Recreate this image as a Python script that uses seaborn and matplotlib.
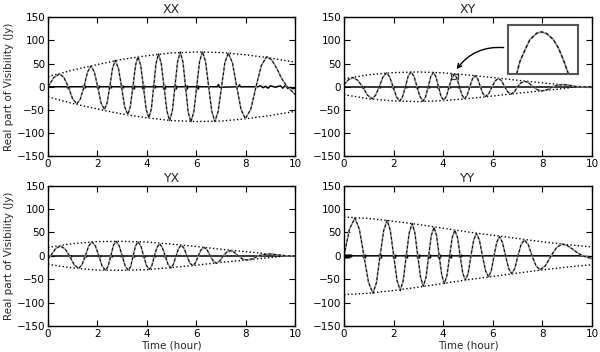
import numpy as np
import pandas as pd
import matplotlib
matplotlib.use("Agg")
import matplotlib.pyplot as plt
import seaborn as sns
from matplotlib.patches import Rectangle

# ---------------- data ----------------
titles = ["XX", "XY", "YX", "YY"]

xx_t = [0, 0.235, 0.47, 0.645, 0.82, 0.995, 1.17, 1.31, 1.455, 1.60, 1.74, 1.875, 2.01, 2.145, 2.28,
        2.39, 2.50, 2.61, 2.72, 2.85, 2.975, 3.10, 3.23, 3.33, 3.435, 3.54, 3.64, 3.75, 3.86, 3.97, 4.08,
        4.18, 4.275, 4.37, 4.47, 4.58, 4.695, 4.81, 4.92, 5.03, 5.135, 5.24, 5.35, 5.46, 5.565, 5.67, 5.78,
        5.90, 6.015, 6.13, 6.25, 6.375, 6.50, 6.625, 6.75, 6.885, 7.02, 7.155, 7.29, 7.46, 7.635, 7.81, 7.98,
        8.20, 8.415, 8.63, 8.85, 9.05, 9.25, 9.45, 9.65, 9.8, 10.0]
xx_v = [0, 20, 28, 20, 0, -26, -37, -26, 0, 32, 45, 32, 0, -35, -49,
        -35, 0, 40, 57, 40, 0, -43, -60, -43, 0, 46, 65, 46, 0, -48, -67,
        -48, 0, 50, 71, 50, 0, -52, -73, -52, 0, 53, 75, 53, 0, -54, -76,
        -54, 0, 54, 76, 54, 0, -53, -75, -53, 0, 52, 73, 52, 0, -49, -69,
        -49, 0, 46, 65, 58, 40, 18, 2, -6, -17]

xy_t = [0, 0.18, 0.36, 0.555, 0.75, 0.945, 1.14, 1.28, 1.425, 1.57, 1.71, 1.845, 1.98, 2.115, 2.25,
        2.36, 2.475, 2.59, 2.70, 2.82, 2.945, 3.07, 3.19, 3.29, 3.395, 3.50, 3.60, 3.705, 3.81, 3.915, 4.02,
        4.13, 4.24, 4.35, 4.45, 4.55, 4.655, 4.76, 4.86, 4.97, 5.075, 5.18, 5.29, 5.395, 5.50, 5.605, 5.71,
        5.84, 5.97, 6.10, 6.23, 6.355, 6.48, 6.605, 6.73, 6.87, 7.005, 7.14, 7.28, 7.45, 7.625, 7.80, 7.97,
        8.19, 8.41, 8.63, 8.85, 9.1, 9.3, 9.5, 10.0]
xy_v = [5, 15, 20, 14, 0, -18, -26, -18, 0, 21, 30, 21, 0, -22, -31,
        -22, 0, 23, 32, 23, 0, -22, -31, -22, 0, 22, 31, 22, 0, -21, -29,
        -21, 0, 19, 26.4, 19, 0, -18, -26, -18, 0, 17, 24, 17, 0, -15, -21,
        -15, 0, 13, 18, 13, 0, -11, -16, -11, 0, 8.5, 12, 8.5, 0, -6.5, -9,
        -6.5, 0, 3.5, 5, 3, 1, 0, 0]

yx_t = [0, 0.1, 0.3, 0.5, 0.685, 0.87, 1.055, 1.24, 1.375, 1.51, 1.645, 1.78, 1.92, 2.055, 2.19, 2.33,
        2.435, 2.54, 2.645, 2.75, 2.875, 3.0, 3.125, 3.25, 3.35, 3.445, 3.54, 3.64, 3.755, 3.87, 3.985, 4.10,
        4.20, 4.305, 4.41, 4.51, 4.625, 4.74, 4.855, 4.97, 5.075, 5.18, 5.285, 5.39, 5.505, 5.62, 5.735, 5.85,
        5.965, 6.08, 6.195, 6.31, 6.435, 6.56, 6.685, 6.81, 6.95, 7.09, 7.23, 7.37, 7.53, 7.695, 7.86, 8.02,
        8.265, 8.51, 8.755, 9.0, 9.3, 9.6, 10.0]
yx_v = [-7, 0, 15, 21, 15, 0, -19, -27, -19, 0, 21, 30, 21, 0, -22, -31,
        -22, 0, 22, 31, 22, 0, -22, -31, -22, 0, 21, 30, 21, 0, -21, -29,
        -21, 0, 18, 26, 18, 0, -18, -26, -18, 0, 16, 23, 16, 0, -15, -21,
        -15, 0, 13, 18, 13, 0, -11, -16, -11, 0, 8, 11, 8, 0, -6.5, -9,
        -6.5, 0, 3, 4, 2, 0, 0]

yy_t = [0, 0.22, 0.44, 0.62, 0.805, 0.99, 1.17, 1.31, 1.455, 1.60, 1.74, 1.87, 2.005, 2.14, 2.27,
        2.39, 2.51, 2.63, 2.75, 2.86, 2.975, 3.09, 3.20, 3.31, 3.415, 3.52, 3.63, 3.735, 3.84, 3.945, 4.05,
        4.155, 4.26, 4.365, 4.47, 4.58, 4.685, 4.79, 4.90, 5.01, 5.12, 5.23, 5.34, 5.46, 5.585, 5.71, 5.83,
        5.94, 6.05, 6.16, 6.27, 6.39, 6.515, 6.64, 6.76, 6.89, 7.015, 7.14, 7.27, 7.43, 7.585, 7.74, 7.90,
        8.125, 8.35, 8.575, 8.80, 9.0, 9.2, 9.4, 9.6, 9.8, 10.0]
yy_v = [0, 57, 81, 57, 0, -57, -80, -57, 0, 54, 76, 54, 0, -53, -74,
        -53, 0, 49, 69, 49, 0, -46, -65, -46, 0, 43, 61, 43, 0, -42, -59,
        -42, 0, 39, 55, 39, 0, -37, -52, -37, 0, 34, 48, 34, 0, -32, -45,
        -32, 0, 29, 41, 29, 0, -27, -38, -27, 0, 24, 34, 24, 0, -21, -30,
        -21, 0, 18, 25, 22, 15, 7, 1, -3, -6]

# envelopes (upper; lower is the mirror)
xx_env_t = [0, 1, 2, 3, 4, 5, 6, 7, 8, 9, 10]
xx_env_v = [22, 36, 48, 59, 67, 73, 75, 74, 69, 62, 53]
xy_env_t = [0, 1, 2, 3, 4, 5, 6, 7, 8, 9, 9.3, 10]
xy_env_v = [17, 26, 30.5, 32, 30, 25.5, 20, 14, 8.5, 3, 0, 0]
yx_env_t = [0, 1, 2, 3, 4, 5, 6, 7, 8, 9, 9.7, 10]
yx_env_v = [18, 26, 30.5, 31, 29.5, 25, 20, 14, 9, 3.5, 0, 0]
yy_env_t = [0, 1, 2, 3, 4, 5, 6, 7, 8, 9, 10]
yy_env_v = [83, 80, 74, 67, 59, 51, 44, 37, 30, 24, 19]

# residuals
xx_res_t = [0, 6.85, 6.9, 6.93, 7.7, 7.75, 7.78, 8.5, 8.6, 8.7, 8.8, 8.9, 9.0, 9.2, 9.4, 9.5, 9.6, 9.7, 9.8, 9.9, 10]
xx_res_v = [0, 0, 5, -1, 0, 4, 0, 0, 2, -2, 1, -3, 2, -1, 2, -3, 3, -4, -1, -4, -3]
xy_res_t = [0, 10]
xy_res_v = [0, 0]
yx_res_t = [0, 10]
yx_res_v = [0, 0]
yy_res_t = [0, 9.5, 9.7, 10]
yy_res_v = [0, 0, -1, -2]

xx_burst_t = [0.82, 1.455, 2.01, 2.5, 2.975, 3.435, 3.86, 4.275, 4.695, 5.135, 5.565, 6.015]
xx_burst_h = [2, 3, 3, 3, 3, 4, 4, 3, 4, 4, 4, 4]
xy_burst_t = [0.75, 1.425, 1.98, 2.475, 2.945, 3.395, 3.81, 4.24, 4.655]
xy_burst_h = [2, 2, 2, 2, 2, 2, 2, 2, 2]
yx_burst_t = [0.87, 1.51, 2.055, 2.54, 3.0, 3.445, 3.87, 4.305, 4.74]
yx_burst_h = [2, 2, 2, 2, 2, 2, 2, 2, 2]
yy_burst_t = [0.05, 0.15, 0.25, 0.805, 1.455, 2.005, 2.51, 2.975, 3.415, 3.84, 4.26, 4.685]
yy_burst_h = [4, 4, 3, 4, 4, 4, 4, 4, 4, 4, 4, 3]

# inset (zoom of XY peak)
inset_t = [4.337, 4.351, 4.373, 4.394, 4.423, 4.444, 4.466, 4.494, 4.516, 4.537, 4.559]
inset_v = [17.0, 19.8, 22.4, 24.7, 26.1, 26.4, 26.0, 24.7, 22.8, 20.2, 17.0]
inset_xlim = (4.3, 4.6)
inset_ylim = (17, 28)

curves_t = [xx_t, xy_t, yx_t, yy_t]
curves_v = [xx_v, xy_v, yx_v, yy_v]
env_t = [xx_env_t, xy_env_t, yx_env_t, yy_env_t]
env_v = [xx_env_v, xy_env_v, yx_env_v, yy_env_v]
res_t = [xx_res_t, xy_res_t, yx_res_t, yy_res_t]
res_v = [xx_res_v, xy_res_v, yx_res_v, yy_res_v]
burst_t = [xx_burst_t, xy_burst_t, yx_burst_t, yy_burst_t]
burst_h = [xx_burst_h, xy_burst_h, yx_burst_h, yy_burst_h]

# ---------------- style ----------------
sns.set_theme(style="ticks", rc={
    "axes.edgecolor": "black",
    "axes.linewidth": 1.0,
    "xtick.direction": "in",
    "ytick.direction": "in",
    "xtick.top": True,
    "ytick.right": True,
    "xtick.major.size": 4,
    "ytick.major.size": 4,
    "xtick.color": "black",
    "ytick.color": "black",
    "font.size": 7.5,
})
plt.rcParams["font.family"] = ["DejaVu Sans"]

fig = plt.figure(figsize=(6, 3.52), dpi=100)
positions = [
    [0.080, 0.556, 0.412, 0.395],
    [0.5733, 0.556, 0.4133, 0.395],
    [0.080, 0.0739, 0.412, 0.3986],
    [0.5733, 0.0739, 0.4133, 0.3986],
]

GREY = "#9a9a9a"

axes = []
for i, pos in enumerate(positions):
    ax = fig.add_axes(pos)
    axes.append(ax)
    t = np.array(curves_t[i]); v = np.array(curves_v[i])
    et = np.array(env_t[i]); ev = np.array(env_v[i])
    sns.lineplot(x=et, y=ev, ax=ax, color="black", linestyle=":", lw=1.0)
    sns.lineplot(x=et, y=-ev, ax=ax, color="black", linestyle=":", lw=1.0)
    sns.lineplot(x=np.array(res_t[i]), y=np.array(res_v[i]), ax=ax, color="black", lw=1.1)
    bt = np.array(burst_t[i]); bh = np.array(burst_h[i])
    ax.vlines(bt, -bh, bh, color="black", lw=2.5)
    sns.lineplot(x=t, y=v, ax=ax, color=GREY, lw=1.2)
    sns.lineplot(x=t, y=v, ax=ax, color="black", linestyle=(0, (3, 2)), lw=0.7)
    ax.set_xlim(0, 10)
    ax.set_ylim(-150, 150)
    ax.set_xticks([0, 2, 4, 6, 8, 10])
    ax.set_yticks([-150, -100, -50, 0, 50, 100, 150])
    ax.tick_params(labelsize=7.5, pad=2, width=0.8)
    ax.set_title(titles[i], fontsize=9, pad=3)
    if i % 2 == 0:
        ax.set_ylabel("Real part of Visibility (Jy)", fontsize=7.5, labelpad=2)
    else:
        ax.set_ylabel("")
    if i >= 2:
        ax.set_xlabel("Time (hour)", fontsize=7.5, labelpad=1)
    else:
        ax.set_xlabel("")
    for sp in ax.spines.values():
        sp.set_visible(True)

# inset on XY
axy = axes[1]
axy.add_patch(Rectangle((inset_xlim[0], inset_ylim[0]), inset_xlim[1] - inset_xlim[0],
                        inset_ylim[1] - inset_ylim[0], fill=False, edgecolor="#333333", lw=0.9))
axy.annotate("", xy=(4.48, 33), xytext=(6.55, 84), xycoords="data", textcoords="data",
             arrowprops=dict(arrowstyle="->", color="black", lw=1.0,
                             connectionstyle="arc3,rad=0.3"), annotation_clip=False)

ain = fig.add_axes([0.8467, 0.7898, 0.1167, 0.14])
sns.lineplot(x=np.array(inset_t), y=np.array(inset_v), ax=ain, color=GREY, lw=1.4)
sns.lineplot(x=np.array(inset_t), y=np.array(inset_v), ax=ain, color="black",
             linestyle=(0, (3, 2)), lw=0.8)
ain.set_xlim(*inset_xlim)
ain.set_ylim(*inset_ylim)
ain.set_xticks([]); ain.set_yticks([])
ain.set_xlabel(""); ain.set_ylabel("")
for sp in ain.spines.values():
    sp.set_visible(True)
    sp.set_color("#555555")
    sp.set_linewidth(1.5)

fig.savefig("out.png", dpi=100)
